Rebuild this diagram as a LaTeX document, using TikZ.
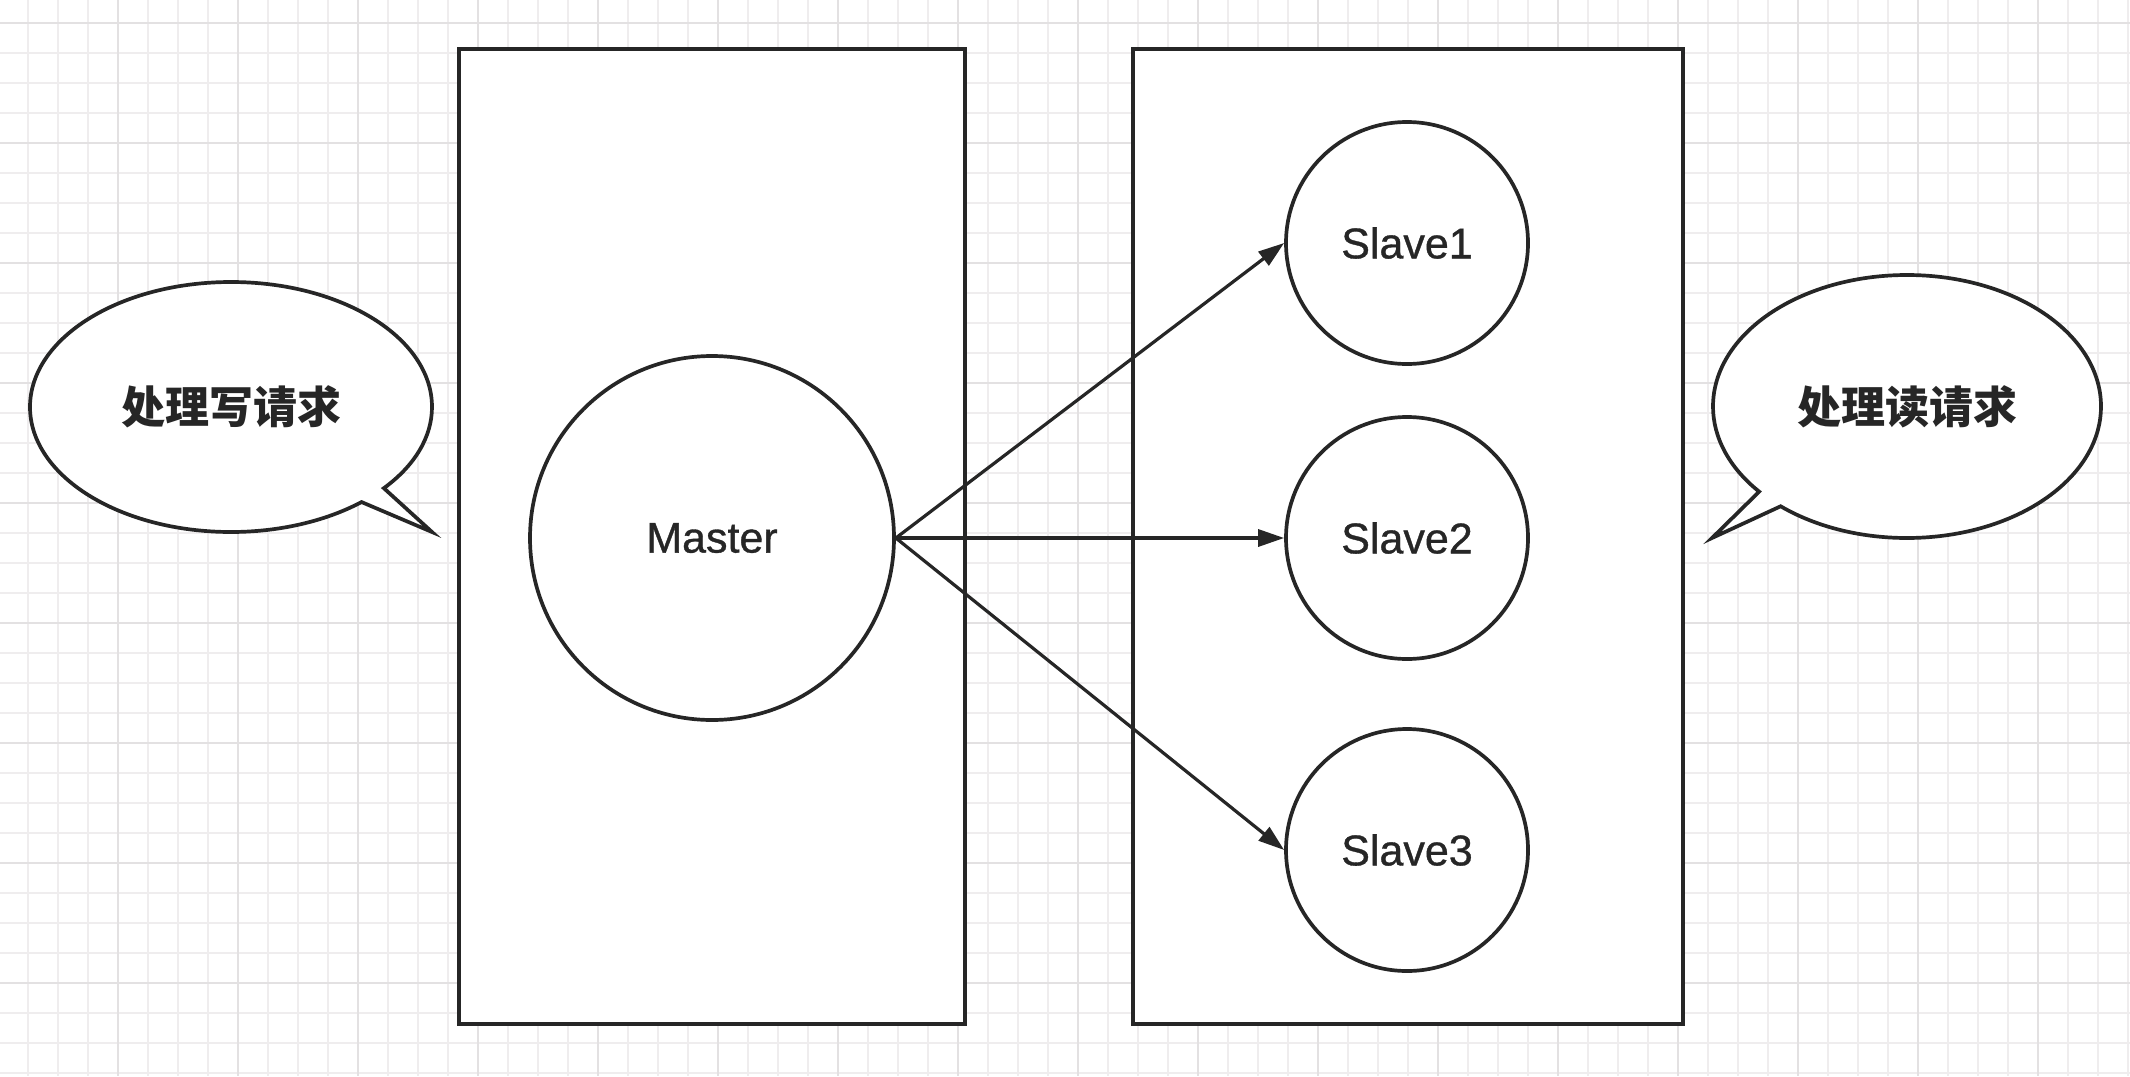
\documentclass[tikz,border=0pt]{standalone}
\usepackage{fontspec}
\setmainfont{Liberation Sans}
\newfontfamily\latm{Liberation Sans}[FakeBold=0.8]
\newfontfamily\cjk{Noto Sans CJK SC}
\usetikzlibrary{shapes.callouts,arrows.meta}
\definecolor{ink}{HTML}{262626}
\definecolor{gridlo}{HTML}{EFEDEE}
\definecolor{gridhi}{HTML}{E3E1E2}
\tikzset{
  box/.style={draw=ink, line width=1.9pt, fill=white, rectangle, inner sep=0pt},
  ball/.style={draw=ink, line width=1.85pt, fill=white, circle, inner sep=0pt, text=ink,
    font=\latm\fontsize{21.5}{25}\selectfont},
  talk/.style={draw=ink, line width=1.85pt, fill=white, ellipse callout, inner sep=0pt,
    callout pointer arc=9, text=ink, font=\cjk\bfseries\fontsize{22}{26}\selectfont},
  arr/.style={draw=ink, line width=1.6pt, -{Triangle[length=13pt,width=8.5pt]}},
}
\begin{document}
\begin{tikzpicture}[x=0.5pt,y=-0.5pt]
  \fill[white] (0,0) rectangle (2130,1076);
  \useasboundingbox (0,0) rectangle (2130,1076);

  \foreach \x in {28,58,...,2128} {
    \draw[gridlo, line width=1pt] (\x,0) -- (\x,1076);
  }
  \foreach \y in {23,53,...,1073} {
    \draw[gridlo, line width=1pt] (0,\y) -- (2130,\y);
  }
  \foreach \x in {118,238,...,2038} {
    \draw[gridhi, line width=1pt] (\x,0) -- (\x,1076);
  }
  \foreach \y in {23,143,...,1043} {
    \draw[gridhi, line width=1pt] (0,\y) -- (2130,\y);
  }

  \node[box, minimum width=253pt, minimum height=487.5pt] (mbox) at (712,536.5) {};
  \node[box, minimum width=275pt, minimum height=487.5pt] (sbox) at (1408,536.5) {};

  \node[ball, minimum size=182pt] (master) at (712,538) {Master};
  \node[ball, minimum size=121pt] (s1) at (1407,243) {Slave1};
  \node[ball, minimum size=121pt] (s2) at (1407,538) {Slave2};
  \node[ball, minimum size=121pt] (s3) at (1407,850) {Slave3};

  \draw[arr] (master.east) -- (s1.west);
  \draw[arr] (master.east) -- (s2.west);
  \draw[arr] (master.east) -- (s3.west);

  \node[talk, minimum width=201pt, minimum height=125pt,
    callout absolute pointer={(432,532)}] (write) at (231,407) {处理写请求};
  \node[talk, minimum width=194pt, minimum height=131.5pt,
    callout absolute pointer={(1712,538)}] (read) at (1907,406.5) {处理读请求};
\end{tikzpicture}
\end{document}
